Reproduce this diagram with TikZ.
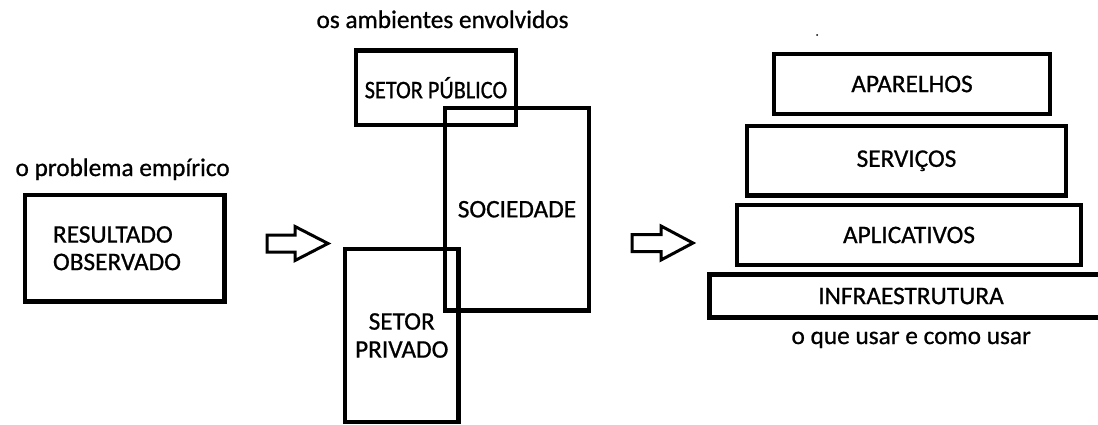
\documentclass[tikz,border=0pt]{standalone}
\usepackage{fontspec}
\setmainfont[FakeBold=0.8]{Carlito}

\begin{document}
\begin{tikzpicture}[x=1pt,y=-1pt,font=\fontsize{25.3}{27.5}\selectfont,
  box/.style={draw,line width=4.3pt,inner sep=0pt,align=center},
  seta/.style={draw,line width=3pt}]
  \useasboundingbox (0,0) rectangle (1098,424);
  % o problema
  \node[anchor=base west] (problema) at (12,176) {o problema empírico};
  \node[box,minimum height=106.5pt,inner xsep=28pt,text width=143.5pt,align=left]
    (resultado) at (124.75,248.25) {RESULTADO\\OBSERVADO};
  % os ambientes
  \node[anchor=base west] (ambientes) at (313,28) {os ambientes envolvidos};
  \node[box,minimum width=160pt,minimum height=74.5pt] (publico) at (436,87.75)
    {\addfontfeatures{FakeStretch=0.88}SETOR PÚBLICO};
  \node[box,minimum width=144pt,minimum height=202.5pt] (sociedade) at (517,209.25) {SOCIEDADE};
  \node[box,minimum width=113.5pt,minimum height=173pt,font=\fontsize{25.3}{28}\selectfont]
    (privado) at (401.75,335.5) {SETOR\\PRIVADO};
  % o que usar
  \fill (817,35) circle (1);
  \node[box,minimum width=276pt,minimum height=60pt] (aparelhos) at (912,84) {APARELHOS};
  \node[box,minimum width=319pt,minimum height=69.5pt] (servicos) at (906.5,160.75) {SERVIÇOS};
  \node[box,minimum width=344.5pt,minimum height=60pt] (aplicativos) at (909,235) {APLICATIVOS};
  \node[box,minimum width=403pt,minimum height=43pt] (infra) at (911,296) {INFRAESTRUTURA};
  \node[anchor=base west] (usar) at (788,344) {o que usar e como usar};
  % setas
  \coordinate (s1) at (267,243.5);
  \coordinate (s2) at (632,243);
  \draw[seta] (s1) ++(0,-8.5) -- ++(28,0) -- ++(0,-8.5) -- ++(33,17) -- ++(-33,17)
    -- ++(0,-8.5) -- ++(-28,0) -- cycle;
  \draw[seta] (s2) ++(0,-8.5) -- ++(29,0) -- ++(0,-8.5) -- ++(32,17) -- ++(-32,17)
    -- ++(0,-8.5) -- ++(-29,0) -- cycle;
\end{tikzpicture}
\end{document}
